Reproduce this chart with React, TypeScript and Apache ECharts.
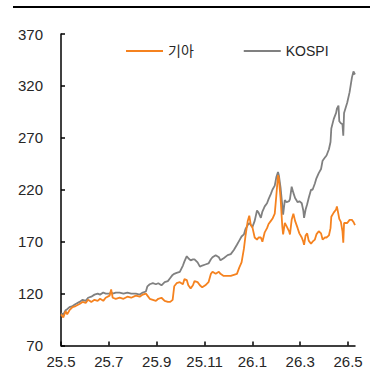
import React, { useEffect, useRef } from "react";
import * as echarts from "echarts";

const tickLabels = ["25.5", "25.7", "25.9", "25.11", "26.1", "26.3", "26.5"];
const seriesNames = ["기아", "KOSPI"];

const dates = [
  "2025-05-01","2025-05-04","2025-05-07","2025-05-09","2025-05-12","2025-05-16","2025-05-20","2025-05-25","2025-05-29",
  "2025-06-02","2025-06-05","2025-06-09","2025-06-13","2025-06-17","2025-06-20","2025-06-24","2025-06-27",
  "2025-07-02","2025-07-04","2025-07-06","2025-07-10","2025-07-15","2025-07-20","2025-07-25","2025-07-30",
  "2025-08-05","2025-08-10","2025-08-14","2025-08-18","2025-08-20","2025-08-23","2025-08-27","2025-08-31",
  "2025-09-03","2025-09-07","2025-09-11","2025-09-15","2025-09-18","2025-09-21","2025-09-23","2025-09-26","2025-09-30",
  "2025-10-04","2025-10-06","2025-10-09","2025-10-11","2025-10-14","2025-10-17","2025-10-19","2025-10-23","2025-10-26","2025-10-29",
  "2025-11-02","2025-11-06","2025-11-09","2025-11-11","2025-11-15","2025-11-19","2025-11-21","2025-11-25","2025-11-30",
  "2025-12-04","2025-12-08","2025-12-12","2025-12-15","2025-12-18","2025-12-21","2025-12-23","2025-12-26","2025-12-28","2025-12-30",
  "2026-01-01","2026-01-04","2026-01-07","2026-01-09","2026-01-12","2026-01-14","2026-01-17","2026-01-20","2026-01-22","2026-01-25","2026-01-27","2026-01-30",
  "2026-02-01","2026-02-03","2026-02-04","2026-02-06","2026-02-08","2026-02-09","2026-02-11","2026-02-13","2026-02-16","2026-02-17","2026-02-19","2026-02-21","2026-02-23","2026-02-26","2026-02-28",
  "2026-03-03","2026-03-05","2026-03-06","2026-03-08","2026-03-10","2026-03-12","2026-03-15","2026-03-17","2026-03-20","2026-03-22","2026-03-25","2026-03-28","2026-03-30",
  "2026-04-02","2026-04-04","2026-04-07","2026-04-09","2026-04-10","2026-04-13","2026-04-16","2026-04-17","2026-04-19","2026-04-20","2026-04-22","2026-04-24","2026-04-25","2026-04-26","2026-04-28","2026-04-30",
  "2026-05-03","2026-05-06","2026-05-08","2026-05-10",
];

const kospi = [
  101,100,104,105,107,108,110,112,114,
  113,116,117,119,120,119,121,120,
  120,121,120,121,121,120,121,120,
  120,119,121,122,127,129,130,129,
  130,128,131,132,135,138,139,140,141,
  147,151,156,154,152,153,153,150,146,147,
  148,149,153,155,157,155,152,154,157,
  158,162,167,171,175,177,182,186,188,186,
  184,190,200,198,193,199,204,207,211,216,220,224,
  232,237,234,222,205,196,210,208,209,211,223,217,212,208,209,
  207,200,193,201,206,212,220,220,226,231,236,240,248,
  251,253,259,266,279,288,294,298,301,286,284,283,272,294,299,304,
  314,328,334,331,
];

const kia = [
  100,97,103,100,104,107,108,110,112,
  111,114,112,114,113,115,113,116,
  118,124,116,115,116,115,117,116,
  118,117,119,120,118,115,114,113,
  115,116,113,112,112,114,127,130,131,
  129,134,133,128,125,128,132,131,128,126,
  128,131,139,141,139,141,139,137,137,
  137,138,139,145,150,163,175,190,195,186,
  184,174,172,174,174,170,179,183,187,190,192,197,
  214,234,231,212,185,177,188,185,180,177,191,197,190,183,178,
  174,170,167,176,178,171,168,170,172,177,180,178,172,
  174,174,176,183,194,198,201,204,196,192,189,180,169,188,188,188,
  191,191,189,186,
];

// month offset from 2025-05-01 (1 unit = 1 month)
function monthOffset(d: string): number {
  const [y, mo, day] = d.split("-").map(Number);
  const days = new Date(y, mo, 0).getDate();
  return (y - 2025) * 12 + (mo - 5) + (day - 1) / days;
}

export default function App() {
  const ref = useRef<HTMLDivElement>(null);
  useEffect(() => {
    if (!ref.current) return;
    const chart = echarts.init(ref.current, null, { renderer: "svg" });
    const xs = dates.map(monthOffset);
    const font = "Liberation Sans, Arial, Noto Sans CJK KR, sans-serif";
    chart.setOption({
      animation: false,
      backgroundColor: "#ffffff",
      grid: { left: 61, right: 15, top: 34, bottom: 38.5, containLabel: false, outerBoundsMode: "none" },
      legend: {
        data: seriesNames,
        left: 121,
        top: 39,
        icon: "rect",
        itemWidth: 37,
        itemHeight: 2,
        itemGap: 50,
        textStyle: { fontFamily: font, fontSize: 14, color: "#262626" },
      },
      graphic: [
        { type: "rect", shape: { x: 13, y: 6, width: 357, height: 2 }, style: { fill: "#000" } },
      ],
      xAxis: {
        type: "value",
        min: 0,
        max: "dataMax",
        interval: 2,
        splitLine: { show: false },
        axisLine: { lineStyle: { color: "#000", width: 1.5 } },
        axisTick: { inside: true, length: 4, lineStyle: { color: "#000", width: 1.5 } },
        axisLabel: {
          margin: 8,
          fontFamily: font,
          fontSize: 15,
          color: "#262626",
          showMaxLabel: false,
          formatter: (v: number) => {
            const i = Math.round(v / 2);
            return Math.abs(v - i * 2) < 1e-6 && tickLabels[i] ? tickLabels[i] : "";
          },
        },
      },
      yAxis: {
        type: "value",
        min: 70,
        max: 370,
        interval: 50,
        splitLine: { show: false },
        axisLine: { show: true, lineStyle: { color: "#000", width: 1.5 } },
        axisTick: { show: true, inside: true, length: 4, lineStyle: { color: "#000", width: 1.5 } },
        axisLabel: { margin: 18, fontFamily: font, fontSize: 15, color: "#262626" },
      },
      series: [
        {
          name: "KOSPI",
          type: "line",
          symbol: "none",
          data: xs.map((x, i) => [x, kospi[i]]),
          lineStyle: { color: "#808080", width: 1.8 },
          itemStyle: { color: "#808080" },
        },
        {
          name: "기아",
          type: "line",
          symbol: "none",
          data: xs.map((x, i) => [x, kia[i]]),
          lineStyle: { color: "#F5821F", width: 1.8 },
          itemStyle: { color: "#F5821F" },
        },
      ],
    });
    return () => chart.dispose();
  }, []);
  return (
    <div
      ref={ref}
      style={{ position: "fixed", left: 0, top: 0, width: 370, height: 384 }}
    />
  );
}
